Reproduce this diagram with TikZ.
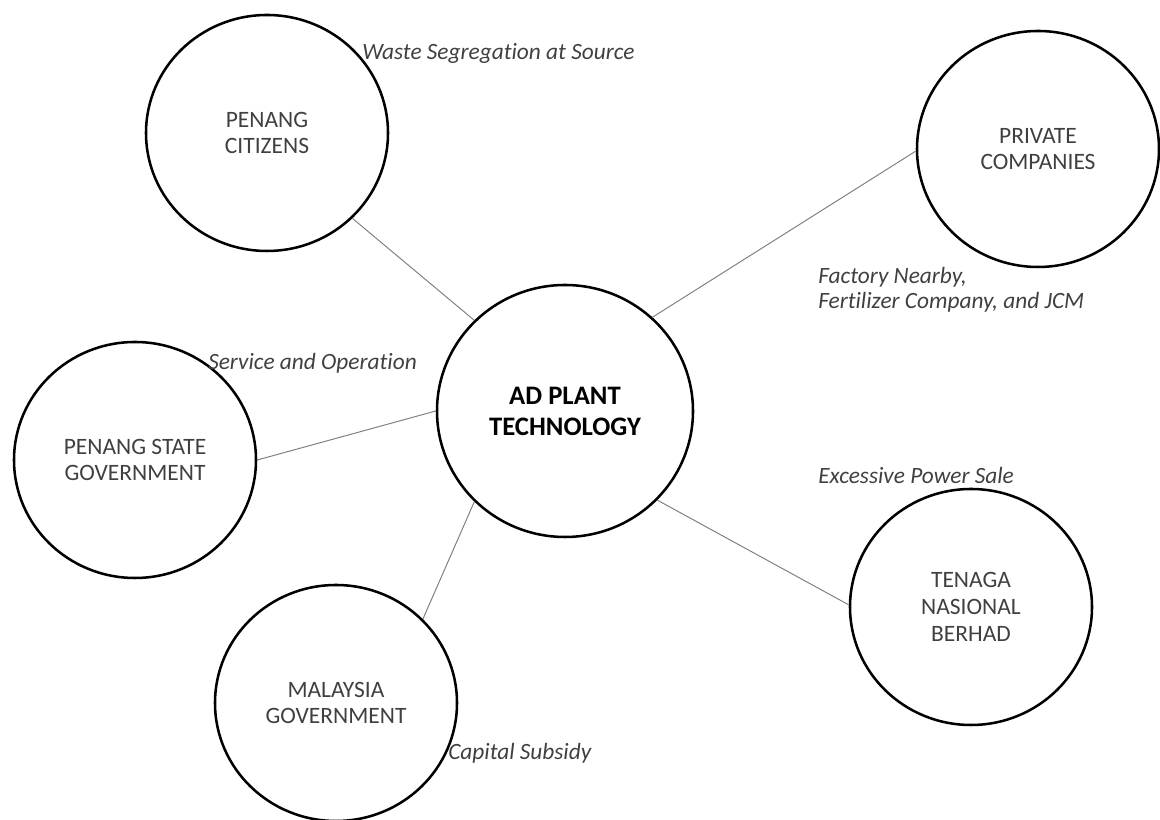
\documentclass[tikz,border=0pt]{standalone}
\usepackage{fontspec}
\setmainfont{Carlito}[Ligatures=NoCommon]
\usepackage{tikz}
\usetikzlibrary{shapes}

\begin{document}
\begin{tikzpicture}[scale=1,
  party/.style={ellipse,draw,line width=1.8pt,minimum width=6.05cm,minimum height=5.9cm,inner sep=0pt,align=center,text=black!75,font=\fontsize{16.7}{19}\selectfont},
  hub/.style={ellipse,draw,line width=1.8pt,minimum width=6.4cm,minimum height=6.3cm,inner sep=0pt,align=center,font=\fontsize{19}{22}\selectfont\bfseries},
  link/.style={draw=black!50,line width=0.7pt},
  note/.style={anchor=west,inner sep=0pt,align=left,text=black!75,font=\fontsize{16.6}{17.5}\selectfont\itshape}]

\useasboundingbox (0,0) rectangle (29,20.5);

\node[hub] (ad) at (14.125,10.225) {AD PLANT\\TECHNOLOGY};

\node[party] (citizens) at (6.675,17.175) {PENANG\\CITIZENS};

\node[party] (private) at (25.95,16.775) {PRIVATE\\COMPANIES};

\node[party] (state) at (3.375,9) {PENANG STATE\\GOVERNMENT};

\node[party] (federal) at (8.4,2.925) {MALAYSIA\\GOVERNMENT};

\node[party] (tnb) at (24.275,5.325) {TENAGA\\NASIONAL\\BERHAD};

\draw[link] (citizens.-45) -- (ad.135);
\draw[link] (private.181) -- (ad.47);
\draw[link] (state.0) -- (ad.180);
\draw[link] (federal.44) -- (ad.-135);
\draw[link] (tnb.179) -- (ad.-44);

\node[note] (waste) at (9.05,19.175) {Waste Segregation at Source};
\node[note] (factory) at (20.45,13.25) {Factory Nearby,\\Fertilizer Company, and JCM};
\node[note] (service) at (5.2,11.425) {Service and Operation};
\node[note] (power) at (20.45,8.625) {Excessive Power Sale};
\node[note] (subsidy) at (11.2,1.675) {Capital Subsidy};

\end{tikzpicture}
\end{document}
